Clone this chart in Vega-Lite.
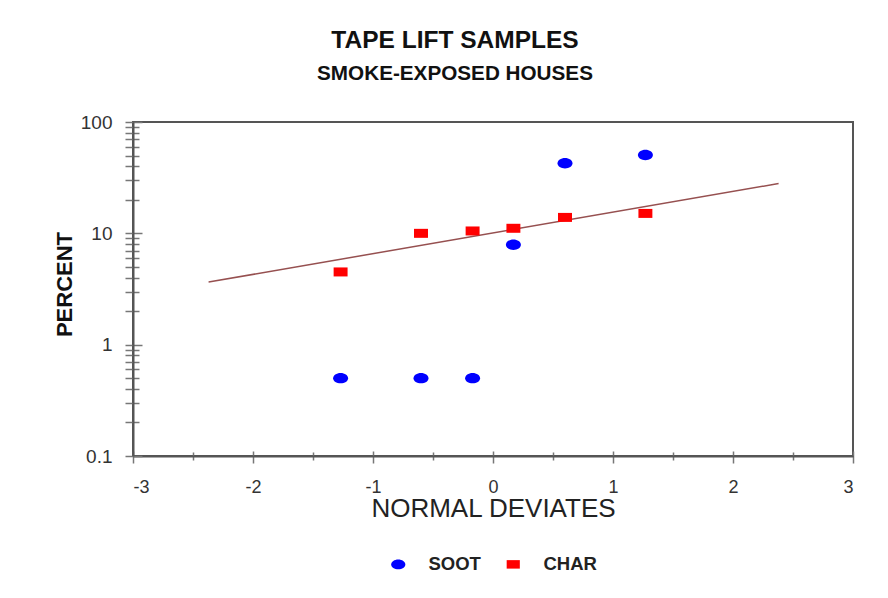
{
  "$schema": "https://vega.github.io/schema/vega-lite/v6.json",
  "width": 720,
  "height": 334,
  "autosize": {"type": "none"},
  "padding": {"left": 133, "top": 122, "right": 35, "bottom": 142},
  "background": "white",
  "config": {
    "font": "Liberation Sans",
    "view": {"stroke": "#555555", "strokeWidth": 2},
    "axis": {"grid": false}
  },
  "title": {
    "text": "TAPE LIFT SAMPLES",
    "subtitle": "SMOKE-EXPOSED HOUSES",
    "font": "Liberation Sans",
    "fontSize": 24.5,
    "fontWeight": "bold",
    "color": "#111111",
    "subtitleFont": "Liberation Sans",
    "subtitleFontSize": 20.7,
    "subtitleFontWeight": "bold",
    "subtitleColor": "#111111",
    "subtitlePadding": 11,
    "offset": 28,
    "anchor": "middle",
    "dx": -38
  },
  "datasets": {
    "points": [
      {"series": "SOOT", "z": -1.27, "pct": 0.5},
      {"series": "SOOT", "z": -0.6, "pct": 0.5},
      {"series": "SOOT", "z": -0.17, "pct": 0.5},
      {"series": "SOOT", "z": 0.17, "pct": 7.9},
      {"series": "SOOT", "z": 0.6, "pct": 42.6},
      {"series": "SOOT", "z": 1.27, "pct": 50.5},
      {"series": "CHAR", "z": -1.27, "pct": 4.5},
      {"series": "CHAR", "z": -0.6, "pct": 10.0},
      {"series": "CHAR", "z": -0.17, "pct": 10.5},
      {"series": "CHAR", "z": 0.17, "pct": 11.1},
      {"series": "CHAR", "z": 0.6, "pct": 13.9},
      {"series": "CHAR", "z": 1.27, "pct": 15.1}
    ],
    "fit": [
      {"z": -2.37, "pct": 3.65},
      {"z": 2.38, "pct": 28.0}
    ]
  },
  "layer": [
    {
      "data": {"name": "fit"},
      "mark": {"type": "line", "color": "#965050", "strokeWidth": 1.5},
      "encoding": {
        "x": {
          "field": "z", "type": "quantitative",
          "scale": {"domain": [-3, 3], "nice": false, "zero": false},
          "axis": {
            "orient": "bottom", "title": null, "labels": false, "domain": false,
            "values": [-3, -2.5, -2, -1.5, -1, -0.5, 0, 0.5, 1, 1.5, 2, 2.5, 3],
            "tickColor": "#777777", "tickWidth": 1.5,
            "tickSize": {"condition": {"test": "datum.value % 1 == 0", "value": -5}, "value": -4}
          }
        },
        "y": {
          "field": "pct", "type": "quantitative",
          "scale": {"type": "log", "domain": [0.1, 100], "nice": false},
          "axis": {
            "orient": "left", "title": null, "labels": false, "domain": false,
            "values": [0.1, 0.2, 0.3, 0.4, 0.5, 0.6, 0.7, 0.8, 0.9, 1, 2, 3, 4, 5, 6, 7, 8, 9, 10, 20, 30, 40, 50, 60, 70, 80, 90, 100],
            "tickColor": "#777777", "tickWidth": 1.5,
            "tickSize": {"condition": {"test": "indexof([0.1, 1, 10, 100], datum.value) >= 0", "value": -9}, "value": -6}
          }
        }
      }
    },
    {
      "data": {"name": "points"},
      "mark": {"type": "point", "filled": true, "opacity": 1, "strokeWidth": 0, "size": 225},
      "encoding": {
        "x": {
          "field": "z", "type": "quantitative",
          "axis": {
            "orient": "bottom", "title": "NORMAL DEVIATES",
            "titleFont": "Liberation Sans", "titleFontSize": 26, "titleFontWeight": "normal", "titleColor": "#222222", "titlePadding": -1,
            "values": [-3, -2.5, -2, -1.5, -1, -0.5, 0, 0.5, 1, 1.5, 2, 2.5, 3],
            "labelExpr": "datum.value % 1 == 0 ? toString(datum.value) : ''",
            "labelFont": "Liberation Sans", "labelFontSize": 18, "labelColor": "#333333", "labelPadding": 15,
            "domainColor": "#555555", "domainWidth": 2,
            "tickColor": "#777777", "tickWidth": 1.5,
            "tickSize": {"condition": {"test": "datum.value % 1 == 0", "value": 7}, "value": 4}
          }
        },
        "y": {
          "field": "pct", "type": "quantitative",
          "axis": {
            "orient": "left", "title": "PERCENT",
            "titleFont": "Liberation Sans", "titleFontSize": 22, "titleFontWeight": "bold", "titleColor": "#111111", "titlePadding": 4,
            "titleY": 162,
            "values": [0.1, 0.2, 0.3, 0.4, 0.5, 0.6, 0.7, 0.8, 0.9, 1, 2, 3, 4, 5, 6, 7, 8, 9, 10, 20, 30, 40, 50, 60, 70, 80, 90, 100],
            "labelExpr": "indexof([0.1, 1, 10, 100], datum.value) >= 0 ? toString(datum.value) : ''",
            "labelFont": "Liberation Sans", "labelFontSize": 19, "labelColor": "#333333", "labelPadding": 13,
            "domainColor": "#555555", "domainWidth": 2,
            "tickColor": "#777777", "tickWidth": 1.5, "tickSize": 8
          }
        },
        "color": {
          "field": "series", "type": "nominal",
          "scale": {"domain": ["SOOT", "CHAR"], "range": ["#0000ff", "#ff0000"]},
          "legend": {
            "orient": "none", "legendX": 256, "legendY": 433, "direction": "horizontal",
            "title": null, "labelFont": "Liberation Sans", "labelFontSize": 18.5, "labelFontWeight": "bold", "labelColor": "#222222",
            "labelOffset": 21, "columnPadding": 23, "symbolSize": 200, "symbolStrokeWidth": 0
          }
        },
        "shape": {
          "field": "series", "type": "nominal",
          "scale": {"domain": ["SOOT", "CHAR"], "range": ["M-1,0A1,0.69,0,1,1,1,0A1,0.69,0,1,1,-1,0Z", "M-0.93,-0.6L0.93,-0.6L0.93,0.6L-0.93,0.6Z"]}
        }
      }
    }
  ],
  "resolve": {"axis": {"x": "independent", "y": "independent"}}
}
